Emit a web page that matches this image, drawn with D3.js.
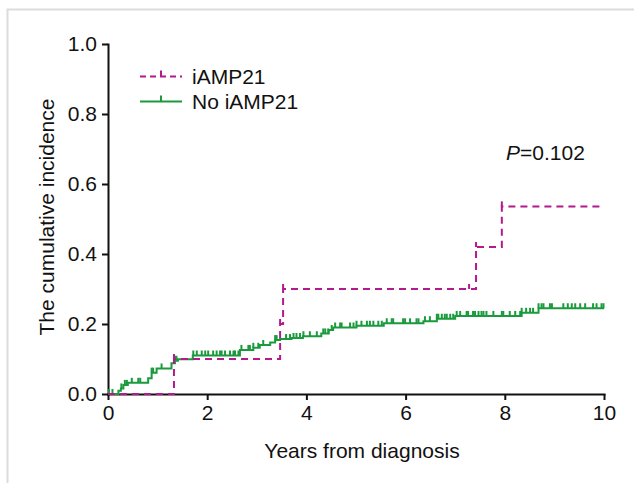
<!DOCTYPE html>
<html lang="en">
<head>
<meta charset="UTF-8">
<title>cumulative incidence</title>
<script src="https://d3js.org/d3.v7.min.js"></script>
<style>
    body { margin: 0; background: #fff; }
    text { font-family: "Liberation Sans", Arial, sans-serif; fill: #111; }
    .axis path, .axis line { stroke: #111; stroke-width: 2px; }
    .axis text { font-size: 21px; }
</style>
</head>
<body>
<div id="chart"></div>
<script>
    // step curves: [years, cumulative incidence]
    let amp21Steps = [[0, 0], [1.33, 0.1], [3.47, 0.2], [3.53, 0.3], [7.42, 0.42], [7.94, 0.536], [10, 0.536]];
    let noAmp21Steps = [[0, 0], [0.21, 0.009], [0.26, 0.016], [0.31, 0.026], [0.40, 0.032], [0.81, 0.045],
        [0.88, 0.061], [0.98, 0.073], [1.28, 0.088], [1.35, 0.095], [1.41, 0.099], [1.71, 0.11],
        [2.66, 0.126], [2.93, 0.132], [3.06, 0.14], [3.27, 0.147], [3.37, 0.154], [3.47, 0.157],
        [3.70, 0.16], [3.93, 0.165], [4.30, 0.173], [4.45, 0.183], [4.54, 0.19], [5.01, 0.195],
        [5.56, 0.202], [6.36, 0.208], [6.63, 0.215], [7.00, 0.223], [8.34, 0.232], [8.68, 0.245], [10, 0.245]];

    // censor marks (years)
    let amp21Censor = [1.33, 3.47, 3.53, 7.28, 7.42, 7.94];
    let noAmp21Censor = [0.02, 0.09, 0.27, 0.34, 0.38, 0.48, 0.61, 0.65, 0.88, 0.91, 1.08, 1.35, 1.38, 1.72, 1.79,
        1.89, 1.96, 2.02, 2.12, 2.19, 2.26, 2.29, 2.36, 2.46, 2.53, 2.56, 2.63, 2.69, 2.83, 2.86, 2.93, 3.03,
        3.13, 3.37, 3.40, 3.59, 3.67, 3.74, 3.80, 3.87, 3.94, 4.07, 4.21, 4.34, 4.38, 4.44, 4.51, 4.58, 4.68,
        4.71, 4.88, 4.95, 5.01, 5.11, 5.22, 5.28, 5.35, 5.45, 5.52, 5.62, 5.72, 5.75, 5.95, 5.99, 6.09, 6.22,
        6.26, 6.39, 6.49, 6.63, 6.66, 6.73, 6.79, 6.83, 6.90, 6.96, 7.03, 7.10, 7.23, 7.26, 7.36, 7.40, 7.47,
        7.53, 7.57, 7.63, 7.77, 7.94, 7.97, 8.10, 8.21, 8.31, 8.34, 8.43, 8.51, 8.57, 8.68, 8.74, 8.78, 8.91,
        8.95, 9.18, 9.27, 9.35, 9.42, 9.52, 9.62, 9.78, 9.85, 9.95, 9.99];

    let xTicks = [0, 2, 4, 6, 8, 10];
    let yTicks = [0, 0.2, 0.4, 0.6, 0.8, 1.0];
    let seriesNames = ["iAMP21", "No iAMP21"];
    let colors = ["#b21a8e", "#1a9a3c"];

    let width = 634, height = 483;
    let svg = d3.select("#chart").append("svg")
        .attr("width", width)
        .attr("height", height);

    // gray frame (top + left only)
    svg.append("path")
        .attr("d", "M7.5,483V9.5H634")
        .attr("fill", "none")
        .attr("stroke", "#dcdcdc")
        .attr("stroke-width", 2);

    let x = d3.scaleLinear().domain([0, 10]).range([108, 604]);
    let y = d3.scaleLinear().domain([0, 1]).range([394, 44]);

    svg.append("g")
        .attr("class", "axis")
        .attr("transform", "translate(0,394)")
        .call(d3.axisBottom(x).tickValues(xTicks).tickFormat(d3.format("d")).tickSize(6).tickSizeOuter(0).tickPadding(5));

    svg.append("g")
        .attr("class", "axis")
        .attr("transform", "translate(108,0)")
        .call(d3.axisLeft(y).tickValues(yTicks).tickFormat(d3.format(".1f")).tickSize(6).tickSizeOuter(0).tickPadding(5));

    svg.selectAll(".axis .domain").attr("stroke-linecap", "square");

    svg.append("text")
        .attr("x", 362).attr("y", 458)
        .attr("text-anchor", "middle")
        .style("font-size", "21px")
        .text("Years from diagnosis");

    svg.append("text")
        .attr("transform", "translate(54,217) rotate(-90)")
        .attr("text-anchor", "middle")
        .style("font-size", "21px")
        .text("The cumulative incidence");

    let p = svg.append("text")
        .attr("x", 506).attr("y", 160)
        .style("font-size", "21px");
    p.append("tspan").style("font-style", "italic").text("P");
    p.append("tspan").text("=0.102");

    let line = d3.line()
        .x(d => x(d[0]))
        .y(d => y(d[1]))
        .curve(d3.curveStepAfter);

    function valueAt(steps, t) {
        let i = d3.bisector(d => d[0]).right(steps, t) - 1;
        return steps[Math.max(0, i)][1];
    }

    function drawCurve(steps, censor, color, dashed) {
        svg.append("path")
            .datum(steps)
            .attr("d", line)
            .attr("fill", "none")
            .attr("stroke", color)
            .attr("stroke-width", 2)
            .attr("stroke-dasharray", dashed ? "7,5" : null);

        svg.append("g").selectAll("line")
            .data(censor)
            .enter().append("line")
            .attr("x1", d => x(d)).attr("x2", d => x(d))
            .attr("y1", d => y(valueAt(steps, d)))
            .attr("y2", d => y(valueAt(steps, d)) - 5)
            .attr("stroke", color)
            .attr("stroke-width", 2);
    }

    drawCurve(noAmp21Steps, noAmp21Censor, colors[1], false);
    drawCurve(amp21Steps, amp21Censor, colors[0], true);

    // legend
    let legend = svg.append("g");
    seriesNames.forEach((name, i) => {
        let ly = 76.5 + i * 25;
        legend.append("line")
            .attr("x1", 140).attr("x2", 182)
            .attr("y1", ly).attr("y2", ly)
            .attr("stroke", colors[i])
            .attr("stroke-width", 2)
            .attr("stroke-dasharray", i === 0 ? "6,4" : null);
        legend.append("line")
            .attr("x1", 161).attr("x2", 161)
            .attr("y1", ly).attr("y2", ly - 6)
            .attr("stroke", colors[i])
            .attr("stroke-width", 2);
        legend.append("text")
            .attr("x", 192).attr("y", ly)
            .attr("dy", "0.35em")
            .style("font-size", "21px")
            .text(name);
    });
</script>
</body>
</html>
